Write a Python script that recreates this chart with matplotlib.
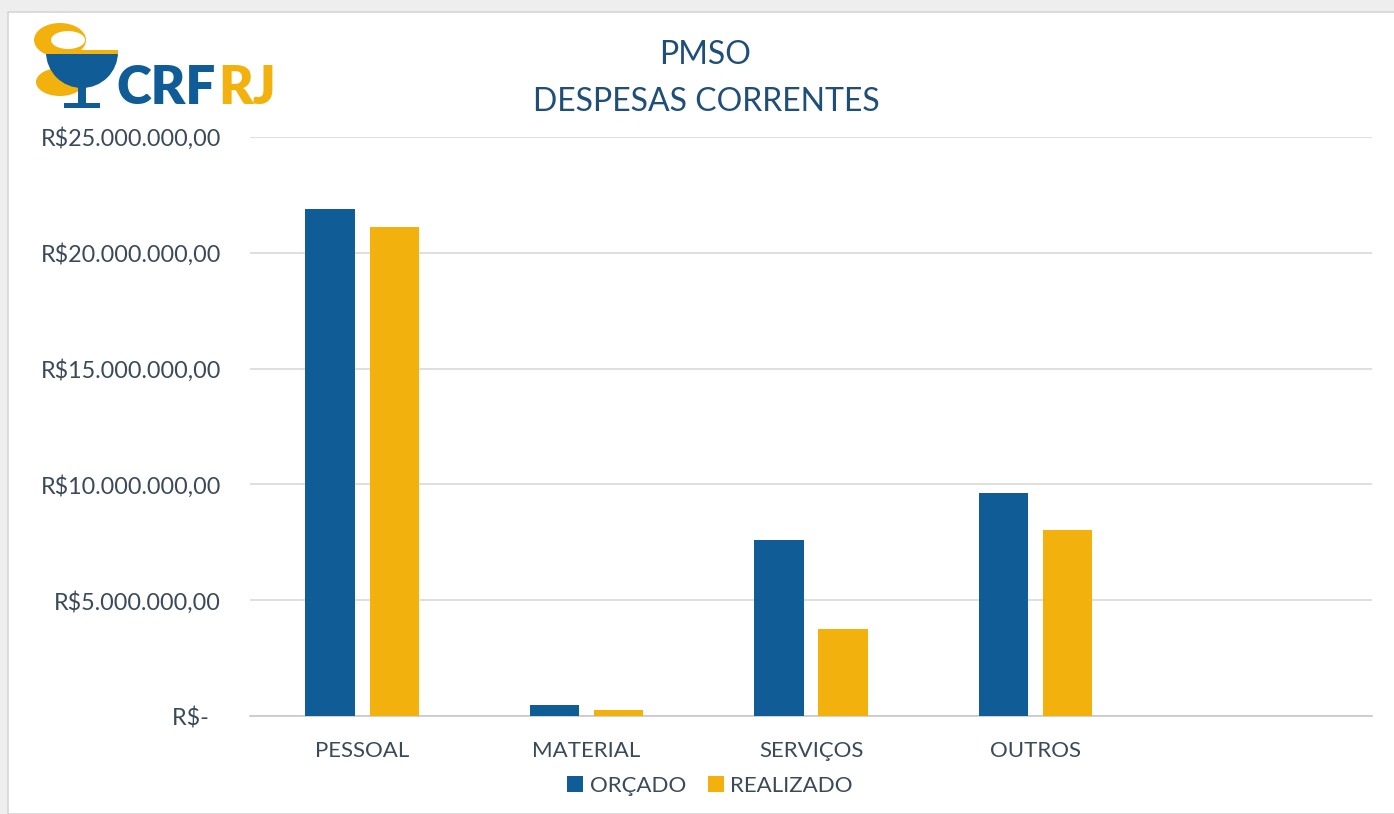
import matplotlib.pyplot as plt
import matplotlib.patches as mpatches
import numpy as np

# dados do gráfico
categorias = ['PESSOAL', 'MATERIAL', 'SERVIÇOS', 'OUTROS', '']
orcado = [21900000, 470000, 7600000, 9630000, 0]
realizado = [21100000, 260000, 3760000, 8030000, 0]
y_ticks = [0, 5000000, 10000000, 15000000, 20000000, 25000000]
y_labels = ['R$-  ', 'R$5.000.000,00', 'R$10.000.000,00', 'R$15.000.000,00',
            'R$20.000.000,00', 'R$25.000.000,00']

azul = '#0F5C96'
amarelo = '#F2B10D'
cor_texto = '#3B4A5A'
cor_titulo = '#1F4E79'

plt.rcParams['font.family'] = ['Lato', 'DejaVu Sans']

fig = plt.figure(figsize=(13.94, 8.14), dpi=100, facecolor='#eeeeee')
# fundo branco do quadro
fig.patches.append(mpatches.Rectangle((8 / 1394, 0), 1, 1 - 12 / 814,
                                      transform=fig.transFigure, facecolor='white',
                                      edgecolor='#d6d6d6', lw=1.2, zorder=-10))

ax = fig.add_axes([250 / 1394, 98 / 814, 1122 / 1394, 579 / 814])
ax.set_facecolor('white')

x = np.arange(len(categorias))
larg = 0.22
ax.bar(x - 0.143, orcado, larg, color=azul, label='ORÇADO', zorder=3)
ax.bar(x + 0.143, realizado, larg, color=amarelo, label='REALIZADO', zorder=3)

ax.set_xlim(-0.5, len(categorias) - 0.5)
ax.set_ylim(0, 25000000)
ax.set_yticks(y_ticks)
ax.set_yticklabels(y_labels, fontsize=16.8, color=cor_texto)
ax.set_xticks(x)
ax.set_xticklabels(categorias, fontsize=16, color=cor_texto)
ax.tick_params(axis='both', length=0)
ax.tick_params(axis='y', pad=21)
ax.tick_params(axis='x', pad=18)
ax.grid(axis='y', color='#d9d9d9', lw=1.2, zorder=0)
for s in ['top', 'right', 'left']:
    ax.spines[s].set_visible(False)
ax.spines['bottom'].set_color('#c8c8c8')
ax.spines['bottom'].set_linewidth(1.2)

fig.text(705 / 1394, 1 - 55 / 814, 'PMSO', ha='center', va='center',
         fontsize=23, color=cor_titulo)
fig.text(706 / 1394, 1 - 102 / 814, 'DESPESAS CORRENTES', ha='center', va='center',
         fontsize=23, color=cor_titulo)

ax.legend(loc='center', bbox_to_anchor=(710 / 1394, 1 - 786 / 814),
          bbox_transform=fig.transFigure, ncol=2, frameon=False, fontsize=16,
          handlelength=0.7, handleheight=0.7, handletextpad=0.3, columnspacing=1.0,
          labelcolor=cor_texto)

# logotipo simplificado
logo = fig.add_axes([30 / 1394, 1 - 112 / 814, 95 / 1394, 92 / 814])
logo.set_xlim(0, 95)
logo.set_ylim(0, 92)
logo.axis('off')
logo.add_patch(mpatches.Ellipse((30, 72), 52, 34, facecolor=amarelo, zorder=1))
logo.add_patch(mpatches.Ellipse((38, 72), 34, 18, facecolor='white', zorder=2))
logo.add_patch(mpatches.Wedge((52, 60), 36, 180, 360, facecolor=azul, zorder=3))
logo.add_patch(mpatches.Rectangle((16, 58), 72, 4, facecolor=amarelo, zorder=3))
logo.add_patch(mpatches.Ellipse((30, 30), 48, 28, facecolor=amarelo, zorder=2))
logo.add_patch(mpatches.Rectangle((48, 6), 8, 20, facecolor=azul, zorder=4))
logo.add_patch(mpatches.Rectangle((34, 4), 36, 5, facecolor=azul, zorder=4))
fig.text(116 / 1394, 1 - 89 / 814, 'CRF', ha='left', va='center',
         fontsize=38, fontweight='heavy', color=azul)
fig.text(276 / 1394, 1 - 89 / 814, 'RJ', ha='right', va='center',
         fontsize=38, fontweight='heavy', color=amarelo)

fig.savefig('out.png', dpi=100, facecolor=fig.get_facecolor())
